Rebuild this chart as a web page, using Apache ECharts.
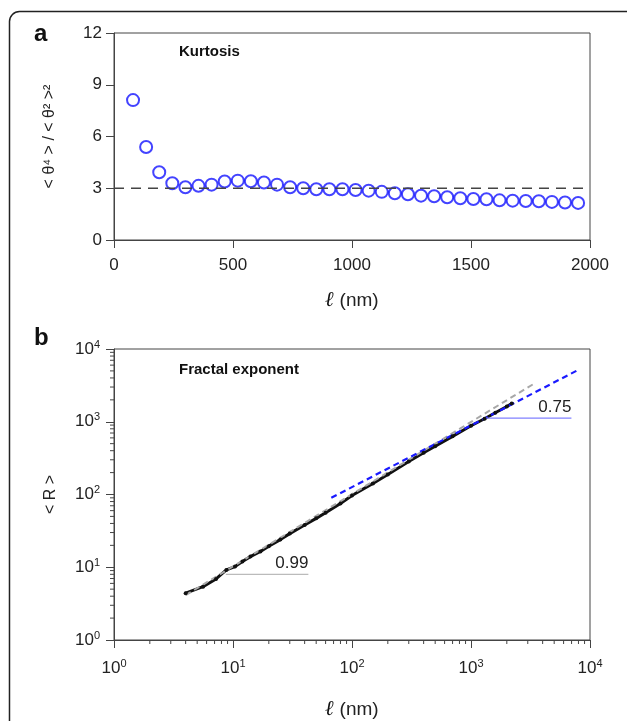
<!DOCTYPE html>
<html>
<head>
<meta charset="utf-8">
<script src="https://cdn.jsdelivr.net/npm/echarts@6/dist/echarts.min.js"></script>
<style>
html,body{margin:0;padding:0;background:#fff;}
#chart{width:627px;height:721px;}
</style>
</head>
<body>
<div id="chart"></div>
<script>
// ---------- Panel a: Kurtosis ----------
const kurtX = [80,135,190,245,300,355,410,465,520,575,630,685,740,795,850,905,960,1015,1070,1125,1180,1235,1290,1345,1400,1455,1510,1565,1620,1675,1730,1785,1840,1895,1950];
const kurtY = [8.11,5.39,3.93,3.29,3.06,3.14,3.21,3.39,3.44,3.41,3.33,3.21,3.06,3.00,2.94,2.94,2.94,2.90,2.86,2.79,2.71,2.65,2.57,2.54,2.48,2.42,2.38,2.36,2.30,2.28,2.26,2.25,2.21,2.17,2.15];
const gaussLevelX = [0, 2000];
const gaussLevelY = [3, 3];
const aXTicks = [0, 500, 1000, 1500, 2000];
const aYTicks = [0, 3, 6, 9, 12];

// ---------- Panel b: Fractal exponent ----------
const fracX = [4,5.6,7.2,8.8,10.4,12,14,17,20,25,30,40,50,60,80,100,150,200,300,400,500,700,1000,1300,1600,2000,2200];
const fracY = [4.4,5.4,6.9,9.2,10.2,12,14,16.5,19.5,24,29,38,47,56,75,97,142,188,285,375,460,630,880,1100,1330,1620,1780];
const fitGrayX = [4, 3500];
const fitGrayY = [4.13, 3450];
const fitBlueX = [67, 7940];
const fitBlueY = [90, 5150];
const ref099X = [8.7, 43];
const ref099Y = [8.0, 8.0];
const ref075X = [1300, 6980];
const ref075Y = [1125, 1125];
const logMinorTicks = [2,3,4,5,6,7,8,9,20,30,40,50,60,70,80,90,200,300,400,500,600,700,800,900,2000,3000,4000,5000,6000,7000,8000,9000];

const FONT = 'Liberation Sans, Arial, sans-serif';
const TXT = '#222';
const zip = (xs, ys) => xs.map((x, i) => [x, ys[i]]);

const supLabel = v => '10{s|' + Math.round(Math.log10(v)) + '}';
const supRich = { s: { fontSize: 11, fontFamily: FONT, color: TXT, verticalAlign: 'bottom', padding: [0, 0, 9, 0] } };
const ellName = '{l|ℓ}{n| (nm)}';
const ellRich = {
  l: { fontFamily: 'DejaVu Serif', fontStyle: 'italic', fontWeight: 'bold', fontSize: 21, color: '#111' },
  n: { fontFamily: FONT, fontSize: 19, color: TXT }
};

const chart = echarts.init(document.getElementById('chart'), null, { renderer: 'canvas' });

const option = {
  backgroundColor: '#fff',
  animation: false,
  textStyle: { fontFamily: FONT },
  grid: [
    { left: 114, top: 33, width: 476, height: 207, show: true, borderColor: '#444', borderWidth: 1, containLabel: false },
    { left: 114, top: 349, width: 476, height: 292, show: true, borderColor: '#444', borderWidth: 1, containLabel: false }
  ],
  xAxis: [
    {
      gridIndex: 0, type: 'value', min: aXTicks[0], max: aXTicks[aXTicks.length - 1], interval: 500,
      axisLine: { show: true, lineStyle: { color: '#444', width: 1 } },
      axisTick: { show: true, length: 8, lineStyle: { color: '#444' } },
      splitLine: { show: false },
      axisLabel: { fontSize: 17, color: TXT, margin: 17, fontFamily: FONT, formatter: v => String(v) },
      name: ellName, nameLocation: 'middle', nameGap: 50,
      nameTextStyle: { rich: ellRich }
    },
    {
      gridIndex: 1, type: 'log', logBase: 10, min: 1, max: 10000,
      axisLine: { show: true, lineStyle: { color: '#444', width: 1 } },
      axisTick: { show: true, length: 8, lineStyle: { color: '#444' } },
      splitLine: { show: false },
      axisLabel: { fontSize: 17, color: TXT, margin: 18, fontFamily: FONT, formatter: supLabel, rich: supRich },
      name: ellName, nameLocation: 'middle', nameGap: 59,
      nameTextStyle: { rich: ellRich }
    }
  ],
  yAxis: [
    {
      gridIndex: 0, type: 'value', min: aYTicks[0], max: aYTicks[aYTicks.length - 1], interval: 3,
      axisLine: { show: true, lineStyle: { color: '#444', width: 1 } },
      axisTick: { show: true, length: 8, lineStyle: { color: '#444' } },
      splitLine: { show: false },
      axisLabel: { fontSize: 17, color: TXT, margin: 12, fontFamily: FONT },
      name: '< θ⁴ > / < θ² >²', nameLocation: 'middle', nameGap: 56,
      nameTextStyle: { fontSize: 16, color: TXT, fontFamily: FONT }
    },
    {
      gridIndex: 1, type: 'log', logBase: 10, min: 1, max: 10000,
      axisLine: { show: true, lineStyle: { color: '#444', width: 1 } },
      axisTick: { show: true, length: 8, lineStyle: { color: '#444' } },
      splitLine: { show: false },
      axisLabel: { fontSize: 17, color: TXT, margin: 14, fontFamily: FONT, formatter: supLabel, rich: supRich },
      name: '< R >', nameLocation: 'middle', nameGap: 55,
      nameTextStyle: { fontSize: 16, color: TXT, fontFamily: FONT }
    }
  ],
  series: [
    {
      type: 'line', xAxisIndex: 0, yAxisIndex: 0, data: zip(gaussLevelX, gaussLevelY),
      symbol: 'none', silent: true,
      lineStyle: { color: '#444', width: 1.3, type: [10, 7] }
    },
    {
      type: 'scatter', xAxisIndex: 0, yAxisIndex: 0, data: zip(kurtX, kurtY),
      symbol: 'circle', symbolSize: 12,
      itemStyle: { color: 'rgba(0,0,0,0)', borderColor: '#1414ff', borderWidth: 2 }
    },
    // panel b
    {
      type: 'custom', xAxisIndex: 1, yAxisIndex: 1, silent: true, clip: false,
      data: logMinorTicks.map(v => [v, 1]),
      renderItem: (params, api) => {
        const p = api.coord([api.value(0), 1]);
        return { type: 'line', shape: { x1: p[0], y1: p[1], x2: p[0], y2: p[1] + 4 }, style: { stroke: '#444', lineWidth: 1 } };
      }
    },
    {
      type: 'custom', xAxisIndex: 1, yAxisIndex: 1, silent: true, clip: false,
      data: logMinorTicks.map(v => [1, v]),
      renderItem: (params, api) => {
        const p = api.coord([1, api.value(1)]);
        return { type: 'line', shape: { x1: p[0] - 4, y1: p[1], x2: p[0], y2: p[1] }, style: { stroke: '#444', lineWidth: 1 } };
      }
    },
    {
      type: 'line', xAxisIndex: 1, yAxisIndex: 1, data: zip(fracX, fracY),
      symbol: 'circle', symbolSize: 4, showSymbol: true,
      itemStyle: { color: '#111' },
      lineStyle: { color: '#111', width: 3 }
    },
    {
      type: 'line', xAxisIndex: 1, yAxisIndex: 1, data: zip(fitGrayX, fitGrayY),
      symbol: 'none', silent: true,
      lineStyle: { color: '#a8a8a8', width: 2, type: [6, 4] }
    },
    {
      type: 'line', xAxisIndex: 1, yAxisIndex: 1, data: zip(fitBlueX, fitBlueY),
      symbol: 'none', silent: true,
      lineStyle: { color: '#1a1aff', width: 2.2, type: [6, 4] }
    },
    {
      type: 'line', xAxisIndex: 1, yAxisIndex: 1,
      data: ref099X.map((x, i) => i === ref099X.length - 1
        ? { value: [x, ref099Y[i]], label: { show: true, formatter: '0.99', position: 'top', align: 'right', distance: 2, fontSize: 17, color: TXT, fontFamily: FONT } }
        : [x, ref099Y[i]]),
      symbolSize: 0, showSymbol: true, silent: true,
      itemStyle: { color: 'rgba(0,0,0,0)' },
      lineStyle: { color: '#aaaaaa', width: 1 }
    },
    {
      type: 'line', xAxisIndex: 1, yAxisIndex: 1,
      data: ref075X.map((x, i) => i === ref075X.length - 1
        ? { value: [x, ref075Y[i]], label: { show: true, formatter: '0.75', position: 'top', align: 'right', distance: 2, fontSize: 17, color: TXT, fontFamily: FONT } }
        : [x, ref075Y[i]]),
      symbolSize: 0, showSymbol: true, silent: true,
      itemStyle: { color: 'rgba(0,0,0,0)' },
      lineStyle: { color: '#8080ff', width: 1.2 }
    }
  ],
  graphic: [
    { type: 'rect', silent: true, shape: { x: 9.5, y: 11.5, width: 700, height: 800, r: 10 }, style: { fill: 'none', stroke: '#222', lineWidth: 1.5 }, z: -1 },
    { type: 'text', left: 34, top: 22, style: { text: 'a', fontSize: 24, fontWeight: 'bold', fill: '#111', fontFamily: FONT } },
    { type: 'text', left: 34, top: 326, style: { text: 'b', fontSize: 24, fontWeight: 'bold', fill: '#111', fontFamily: FONT } },
    { type: 'text', left: 179, top: 44, style: { text: 'Kurtosis', fontSize: 15, fontWeight: 'bold', fill: '#111', fontFamily: FONT } },
    { type: 'text', left: 179, top: 362, style: { text: 'Fractal exponent', fontSize: 15, fontWeight: 'bold', fill: '#111', fontFamily: FONT } }
  ]
};
chart.setOption(option);
</script>
</body>
</html>
